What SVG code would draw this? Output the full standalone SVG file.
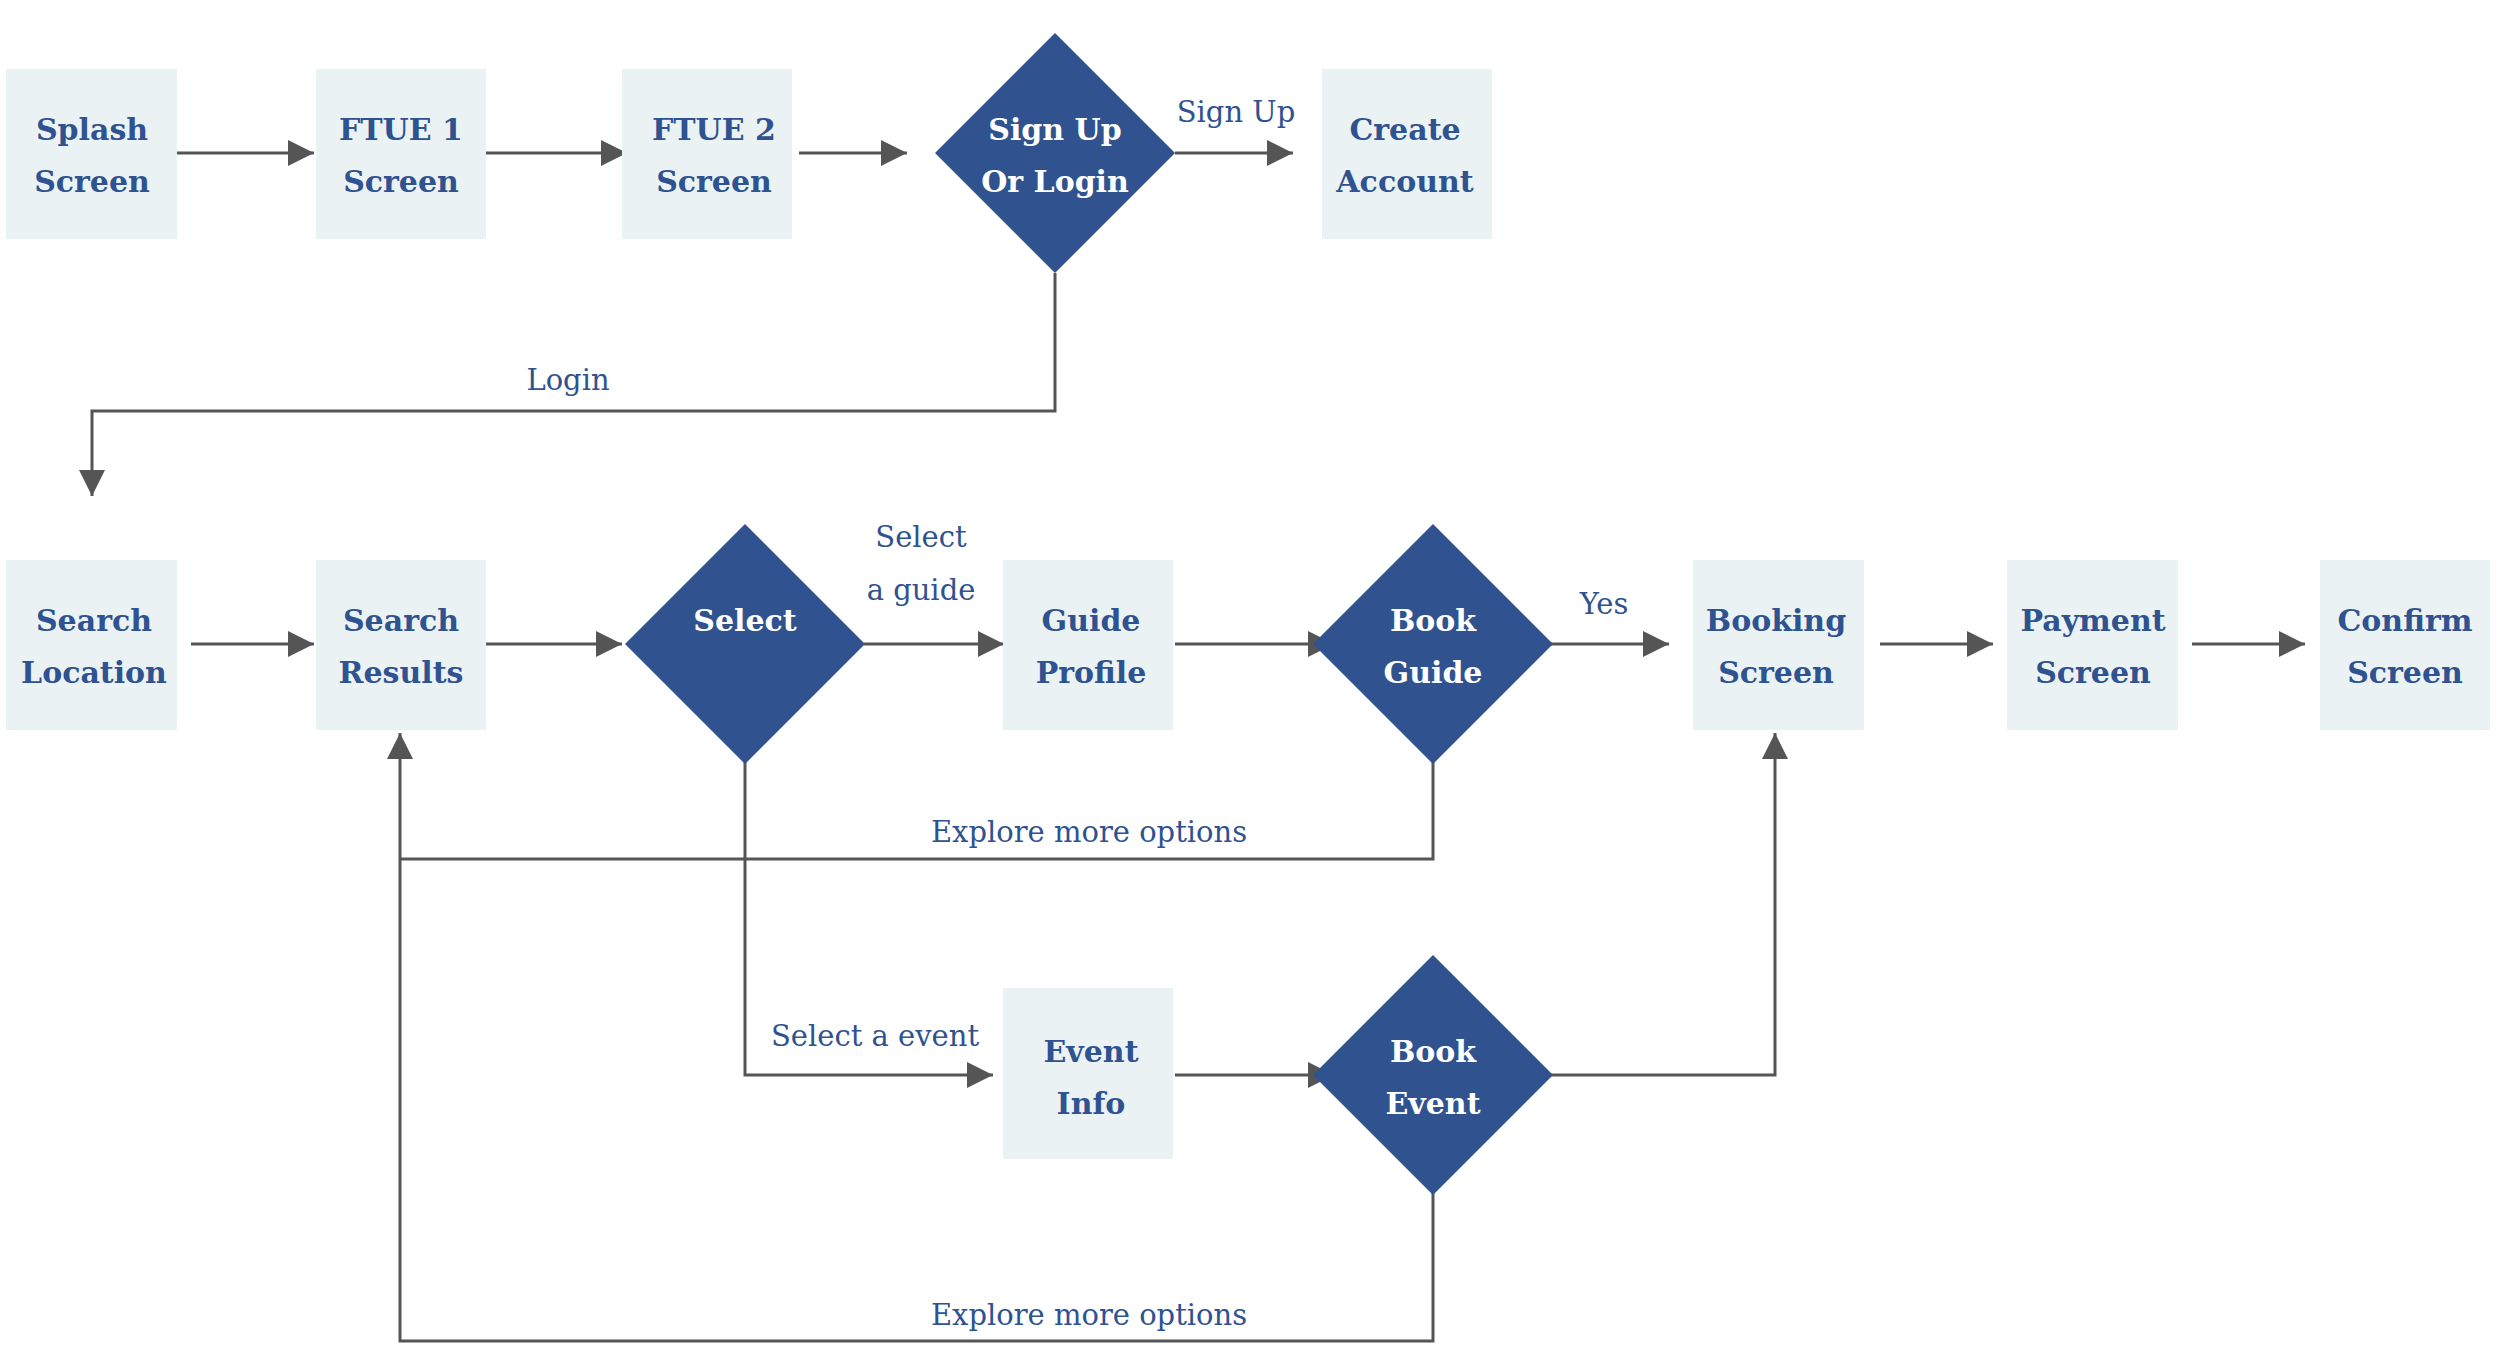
<svg xmlns="http://www.w3.org/2000/svg" width="2500" height="1359" viewBox="0 0 2500 1359">
<style>
.b{fill:#ebf2f4}
.d{fill:#30538f}
.t{font-family:"DejaVu Serif","Liberation Serif",serif;font-weight:bold;font-size:30px;fill:#2f5290;text-anchor:middle}
.w{fill:#ffffff}
.l{font-family:"DejaVu Serif","Liberation Serif",serif;font-size:29px;fill:#2f5290;text-anchor:middle}
.c{fill:none;stroke:#555;stroke-width:3}
</style>
<defs><marker id="a" markerWidth="10" markerHeight="10" refX="9" refY="5" orient="auto" markerUnits="userSpaceOnUse" viewBox="0 0 10 10"><path d="M0,0L10,5L0,10z" fill="#555"/></marker>
<marker id="A" viewBox="0 0 10 10" refX="10" refY="5" markerWidth="28" markerHeight="26" orient="auto" markerUnits="userSpaceOnUse"><path d="M0,0L10,5L0,10z" fill="#555"/></marker></defs>
<rect width="2500" height="1359" fill="#fff"/>
<g id="connectors">
<path class="c" marker-end="url(#A)" d="M177,153H314"/>
<path class="c" marker-end="url(#A)" d="M486,153H627"/>
<path class="c" marker-end="url(#A)" d="M799,153H907"/>
<path class="c" marker-end="url(#A)" d="M1175,153H1293"/>
<path class="c" marker-end="url(#A)" d="M1055,273V411H92V496"/>
<path class="c" marker-end="url(#A)" d="M191,644H314"/>
<path class="c" marker-end="url(#A)" d="M486,644H622"/>
<path class="c" marker-end="url(#A)" d="M864,644H1004"/>
<path class="c" marker-end="url(#A)" d="M1175,644H1334"/>
<path class="c" marker-end="url(#A)" d="M1551,644H1669"/>
<path class="c" marker-end="url(#A)" d="M1880,644H1993"/>
<path class="c" marker-end="url(#A)" d="M2192,644H2305"/>
<path class="c" d="M1433,717V859H399"/>
<path class="c" marker-end="url(#A)" d="M1433,1193V1341H400V733"/>
<path class="c" marker-end="url(#A)" d="M745,717V1075H993"/>
<path class="c" marker-end="url(#A)" d="M1175,1075H1334"/>
<path class="c" marker-end="url(#A)" d="M1551,1075H1775V733"/>
<text class="l" x="1236" y="122">Sign Up</text>
<text class="l" x="568" y="390">Login</text>
<text class="l" x="921" y="547">Select</text>
<text class="l" x="921" y="600">a guide</text>
<text class="l" x="1604" y="614">Yes</text>
<text class="l" x="1089" y="842">Explore more options</text>
<text class="l" x="875" y="1046">Select a event</text>
<text class="l" x="1089" y="1325">Explore more options</text>
</g>
<g id="splash"><rect class="b" x="6" y="69" width="171" height="170"/><text class="t" x="92" y="140">Splash</text><text class="t" x="92" y="192">Screen</text></g>
<g id="ftue1"><rect class="b" x="316" y="69" width="170" height="170"/><text class="t" x="401" y="140">FTUE 1</text><text class="t" x="401" y="192">Screen</text></g>
<g id="ftue2"><rect class="b" x="622" y="69" width="170" height="170"/><text class="t" x="714" y="140">FTUE 2</text><text class="t" x="714" y="192">Screen</text></g>
<g id="signup"><path class="d" d="M1055,33L1175,153L1055,273L935,153z"/><text class="t w" x="1055" y="140">Sign Up</text><text class="t w" x="1055" y="192">Or Login</text></g>
<g id="create"><rect class="b" x="1322" y="69" width="170" height="170"/><text class="t" x="1405" y="140">Create</text><text class="t" x="1405" y="192">Account</text></g>
<g id="searchloc"><rect class="b" x="6" y="560" width="171" height="170"/><text class="t" x="94" y="631">Search</text><text class="t" x="94" y="683">Location</text></g>
<g id="searchres"><rect class="b" x="316" y="560" width="170" height="170"/><text class="t" x="401" y="631">Search</text><text class="t" x="401" y="683">Results</text></g>
<g id="select"><path class="d" d="M745,524L865,644L745,764L625,644z"/><text class="t w" x="745" y="631">Select</text></g>
<g id="guide"><rect class="b" x="1003" y="560" width="170" height="170"/><text class="t" x="1091" y="631">Guide</text><text class="t" x="1091" y="683">Profile</text></g>
<g id="bookguide"><path class="d" d="M1433,524L1553,644L1433,764L1313,644z"/><text class="t w" x="1433" y="631">Book</text><text class="t w" x="1433" y="683">Guide</text></g>
<g id="booking"><rect class="b" x="1693" y="560" width="171" height="170"/><text class="t" x="1776" y="631">Booking</text><text class="t" x="1776" y="683">Screen</text></g>
<g id="payment"><rect class="b" x="2007" y="560" width="171" height="170"/><text class="t" x="2093" y="631">Payment</text><text class="t" x="2093" y="683">Screen</text></g>
<g id="confirm"><rect class="b" x="2320" y="560" width="170" height="170"/><text class="t" x="2405" y="631">Confirm</text><text class="t" x="2405" y="683">Screen</text></g>
<g id="event"><rect class="b" x="1003" y="988" width="170" height="171"/><text class="t" x="1091" y="1062">Event</text><text class="t" x="1091" y="1114">Info</text></g>
<g id="bookevent"><path class="d" d="M1433,955L1553,1075L1433,1195L1313,1075z"/><text class="t w" x="1433" y="1062">Book</text><text class="t w" x="1433" y="1114">Event</text></g>
</svg>
